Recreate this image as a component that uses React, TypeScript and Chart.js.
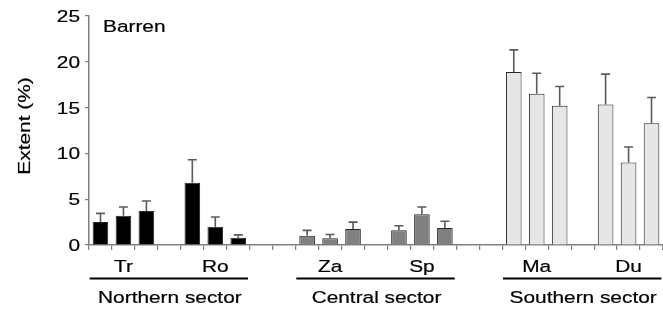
import React, { useEffect, useRef } from "react";
import { Chart, registerables } from "chart.js";

Chart.register(...registerables);

// ---- data ----
const panelTitle = "Barren";
const yAxisTitle = "Extent (%)";
const yTickValues = [0, 5, 10, 15, 20, 25];

const siteNames = ["Tr", "Ro", "Za", "Sp", "Ma", "Du"];
const siteSector = [0, 0, 1, 1, 2, 2];
const sectorNames = ["Northern sector", "Central sector", "Southern sector"];
const sectorFill = ["#000000", "#808080", "#e6e6e6"];
// empty slots before each site group on the x axis
const gapsBefore = [0, 1, 2, 1, 2, 1];

const trMeans = [2.5, 3.2, 3.7];
const roMeans = [6.8, 2.0, 0.8];
const zaMeans = [1.0, 0.75, 1.75];
const spMeans = [1.6, 3.35, 1.85];
const maMeans = [18.9, 16.5, 15.2];
const duMeans = [15.35, 9.0, 13.3];

const trErr = [0.95, 0.95, 1.1];
const roErr = [2.5, 1.05, 0.3];
const zaErr = [0.6, 0.4, 0.75];
const spErr = [0.5, 0.8, 0.75];
const maErr = [2.4, 2.25, 2.1];
const duErr = [3.3, 1.7, 2.8];

const siteMeans = [trMeans, roMeans, zaMeans, spMeans, maMeans, duMeans];
const siteErrs = [trErr, roErr, zaErr, spErr, maErr, duErr];

// ---- build slot table ----
const slotLabels: string[] = [];
const slotValues: (number | null)[] = [];
const slotErrs: (number | null)[] = [];
const slotColors: string[] = [];
const siteSlots: number[][] = [];
siteNames.forEach((name, s) => {
  for (let g = 0; g < gapsBefore[s]; g++) {
    slotLabels.push("gap" + slotLabels.length);
    slotValues.push(null);
    slotErrs.push(null);
    slotColors.push("rgba(0,0,0,0)");
  }
  const idx: number[] = [];
  siteMeans[s].forEach((v, k) => {
    idx.push(slotLabels.length);
    slotLabels.push(name + (k + 1));
    slotValues.push(v);
    slotErrs.push(siteErrs[s][k]);
    slotColors.push(sectorFill[siteSector[s]]);
  });
  siteSlots.push(idx);
});

const FONT = '"Liberation Sans", Arial, sans-serif';
const SX = 1.28;
const FS = 16.3;
const STROKE = 0.2;

function stretchedText(
  ctx: CanvasRenderingContext2D,
  text: string,
  x: number,
  y: number,
  size: number,
  align: CanvasTextAlign
) {
  ctx.save();
  ctx.font = `${size}px ${FONT}`;
  ctx.fillStyle = "#000";
  ctx.strokeStyle = "#000";
  ctx.lineWidth = STROKE;
  ctx.textBaseline = "alphabetic";
  ctx.textAlign = align;
  ctx.translate(x, y);
  ctx.scale(SX, 1);
  ctx.fillText(text, 0, 0);
  ctx.strokeText(text, 0, 0);
  ctx.restore();
}

const annotations = {
  id: "annotations",
  afterDatasetsDraw(chart: any) {
    const ctx: CanvasRenderingContext2D = chart.ctx;
    const yScale = chart.scales.y;
    const meta = chart.getDatasetMeta(0);
    ctx.save();
    ctx.strokeStyle = "#5a5a5a";
    ctx.lineWidth = 1.6;
    slotErrs.forEach((e, i) => {
      const v = slotValues[i];
      if (e == null || v == null) return;
      const el = meta.data[i];
      const top = yScale.getPixelForValue(v + e);
      const base = yScale.getPixelForValue(v);
      ctx.beginPath();
      ctx.moveTo(el.x, base);
      ctx.lineTo(el.x, top);
      ctx.moveTo(el.x - 4.5, top);
      ctx.lineTo(el.x + 4.5, top);
      ctx.stroke();
    });
    ctx.restore();
  },
  afterDraw(chart: any) {
    const ctx: CanvasRenderingContext2D = chart.ctx;
    const area = chart.chartArea;
    const yScale = chart.scales.y;
    const meta = chart.getDatasetMeta(0);

    // y tick labels
    yTickValues.forEach((v) => {
      const py = yScale.getPixelForValue(v);
      stretchedText(ctx, String(v), area.left - 9, py + 5.9, FS, "right");
    });

    // y title
    ctx.save();
    ctx.font = `${FS}px ${FONT}`;
    ctx.fillStyle = "#000";
    ctx.strokeStyle = "#000";
    ctx.lineWidth = STROKE;
    ctx.textAlign = "center";
    ctx.textBaseline = "alphabetic";
    ctx.translate(29.5, 126);
    ctx.rotate(-Math.PI / 2);
    ctx.scale(SX, 1);
    ctx.fillText(yAxisTitle, 0, 0);
    ctx.strokeText(yAxisTitle, 0, 0);
    ctx.restore();

    // panel title
    stretchedText(ctx, panelTitle, area.left + 14, 32, FS, "left");

    // site labels
    siteSlots.forEach((idx, s) => {
      const mid = meta.data[idx[1]];
      stretchedText(ctx, siteNames[s], mid.x, 272, FS, "center");
    });

    // sector lines + labels
    sectorNames.forEach((name, sec) => {
      const sites = siteSector
        .map((v, i) => (v === sec ? i : -1))
        .filter((i) => i >= 0);
      const firstEl = meta.data[siteSlots[sites[0]][0]];
      const lastIdx = siteSlots[sites[sites.length - 1]];
      const lastEl = meta.data[lastIdx[lastIdx.length - 1]];
      const x0 = firstEl.x - firstEl.width / 2 - 3;
      const x1 = Math.min(lastEl.x + lastEl.width / 2 + 2, chart.width);
      ctx.save();
      ctx.strokeStyle = "#000";
      ctx.lineWidth = 2;
      ctx.beginPath();
      ctx.moveTo(x0, 278.5);
      ctx.lineTo(x1, 278.5);
      ctx.stroke();
      ctx.restore();
      stretchedText(ctx, name, (x0 + x1) / 2 + 1, 302.5, FS, "center");
    });
  },
};

export default function App() {
  const ref = useRef<HTMLCanvasElement | null>(null);
  useEffect(() => {
    if (!ref.current) return;
    const chart = new Chart(ref.current, {
      type: "bar",
      data: {
        labels: slotLabels,
        datasets: [
          {
            data: slotValues as any,
            backgroundColor: slotColors,
            borderColor: "#262626",
            borderWidth: 1,
            barPercentage: 0.68,
            categoryPercentage: 1,
          },
        ],
      },
      options: {
        animation: false,
        responsive: true,
        maintainAspectRatio: false,
        layout: { padding: { top: 16, bottom: 62, left: 0, right: 0 } },
        plugins: {
          legend: { display: false },
          tooltip: { enabled: false },
        },
        scales: {
          x: {
            type: "category",
            ticks: { display: false },
            grid: {
              offset: true,
              drawOnChartArea: false,
              drawTicks: true,
              tickLength: 5,
              color: "#808080",
              lineWidth: 1.2,
            },
            border: { color: "#808080", width: 1.5 },
          },
          y: {
            min: 0,
            max: 25,
            afterBuildTicks: (scale: any) => {
              scale.ticks = yTickValues.map((v) => ({ value: v }));
            },
            afterFit: (scale: any) => {
              scale.width = 89;
            },
            ticks: { display: false },
            grid: {
              drawOnChartArea: false,
              drawTicks: true,
              tickLength: 4,
              color: "#808080",
              lineWidth: 1.2,
            },
            border: { color: "#808080", width: 1.5 },
          },
        },
      },
      plugins: [annotations],
    });
    return () => chart.destroy();
  }, []);
  return (
    <div
      style={{
        position: "fixed",
        left: 0,
        top: 0,
        width: 663,
        height: 312,
        background: "#fff",
      }}
    >
      <canvas ref={ref} />
    </div>
  );
}
